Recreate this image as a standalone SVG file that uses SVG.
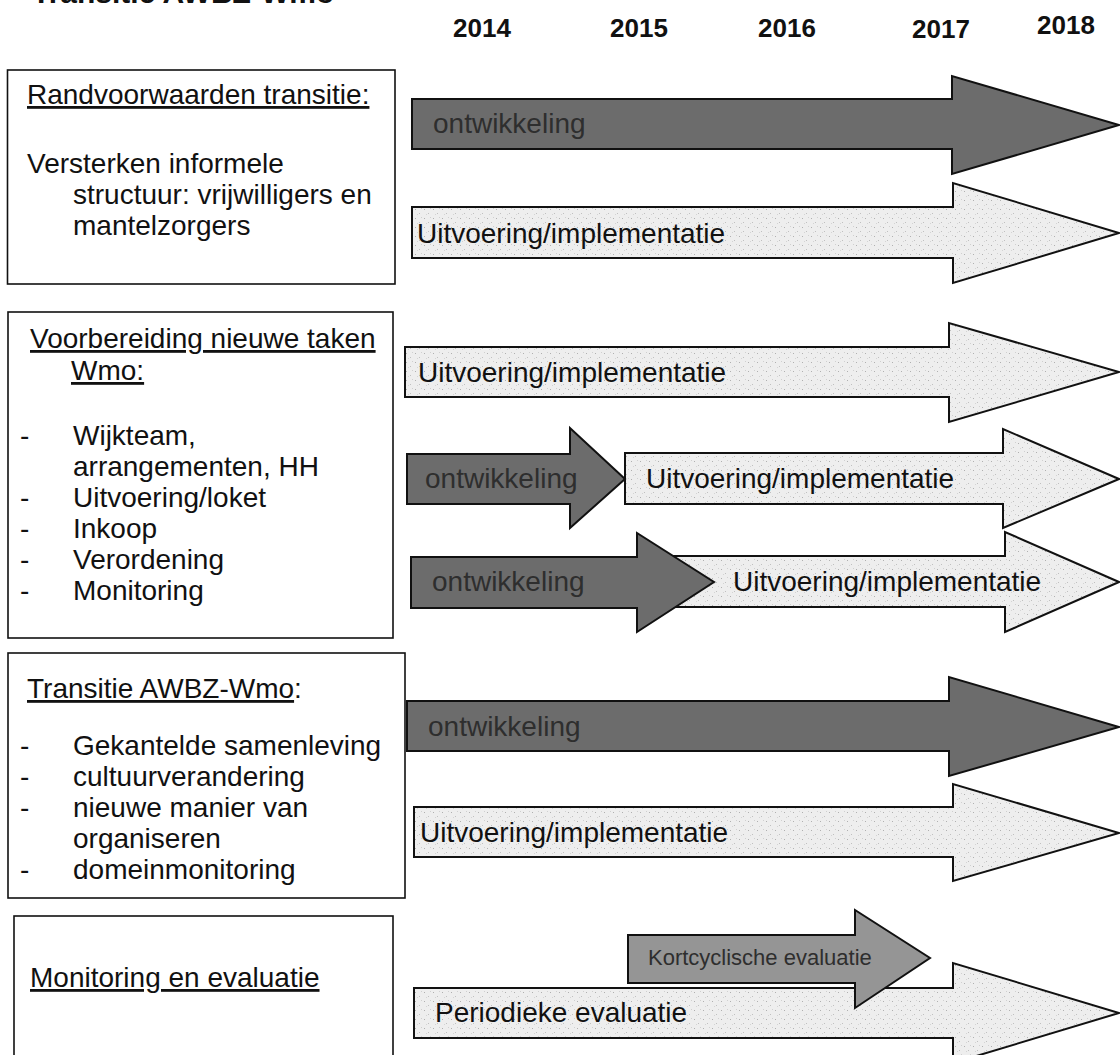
<svg xmlns="http://www.w3.org/2000/svg" width="1120" height="1055" viewBox="0 0 1120 1055">
<style>
text{font-family:"Liberation Sans",Arial,sans-serif;fill:#111}
.t{font-size:28px}
.yr{font-size:26px;font-weight:bold}
.ttl{font-size:30px;font-weight:bold}
.box{fill:#fff;stroke:#111;stroke-width:1.6}
.dark{fill:#6c6c6c;stroke:#111;stroke-width:2}
.light{fill:url(#speck);stroke:#111;stroke-width:2}
.mid{fill:#959595;stroke:#111;stroke-width:2}
.dt{font-size:28px;fill:#2e2e2e}
.lt{font-size:28px;fill:#111}
.u{text-decoration:underline}
</style>
<defs>
<pattern id="speck" width="9" height="9" patternUnits="userSpaceOnUse">
<rect width="9" height="9" fill="#eeeeee"/>
<rect x="1" y="2" width="1" height="1" fill="#b0b0b0"/>
<rect x="5" y="6" width="1" height="1" fill="#c0c0c0"/>
<rect x="7" y="1" width="1" height="1" fill="#d0d0d0"/>
<rect x="3" y="7" width="1" height="1" fill="#d4d4d4"/>
</pattern>
</defs>
<rect width="1120" height="1055" fill="#fff"/>
<text class="ttl" x="32" y="3">Transitie AWBZ-Wmo</text>
<g id="years">
<text class="yr" x="453" y="37">2014</text>
<text class="yr" x="610" y="37">2015</text>
<text class="yr" x="758" y="37">2016</text>
<text class="yr" x="912" y="38">2017</text>
<text class="yr" x="1037" y="34">2018</text>
</g>
<g id="box1">
<rect class="box" x="7.5" y="70" width="387.5" height="214"/>
<text class="t" x="27" y="104"><tspan class="u">Randvoorwaarden transitie:</tspan></text>
<text class="t" x="27" y="173">Versterken informele</text>
<text class="t" x="73" y="204">structuur: vrijwilligers en</text>
<text class="t" x="73" y="235">mantelzorgers</text>
</g>
<g id="box2">
<rect class="box" x="8" y="312" width="385" height="326"/>
<text class="t" x="30" y="348"><tspan class="u">Voorbereiding nieuwe taken</tspan></text>
<text class="t" x="71" y="380"><tspan class="u">Wmo:</tspan></text>
<text class="t" x="20" y="445">-</text><text class="t" x="73" y="445">Wijkteam,</text>
<text class="t" x="73" y="476">arrangementen, HH</text>
<text class="t" x="20" y="507">-</text><text class="t" x="73" y="507">Uitvoering/loket</text>
<text class="t" x="20" y="538">-</text><text class="t" x="73" y="538">Inkoop</text>
<text class="t" x="20" y="569">-</text><text class="t" x="73" y="569">Verordening</text>
<text class="t" x="20" y="600">-</text><text class="t" x="73" y="600">Monitoring</text>
</g>
<g id="box3">
<rect class="box" x="8" y="653" width="397" height="245"/>
<text class="t" x="27" y="698"><tspan class="u">Transitie AWBZ-Wmo</tspan>:</text>
<text class="t" x="20" y="755">-</text><text class="t" x="73" y="755">Gekantelde samenleving</text>
<text class="t" x="20" y="786">-</text><text class="t" x="73" y="786">cultuurverandering</text>
<text class="t" x="20" y="817">-</text><text class="t" x="73" y="817">nieuwe manier van</text>
<text class="t" x="73" y="848">organiseren</text>
<text class="t" x="20" y="879">-</text><text class="t" x="73" y="879">domeinmonitoring</text>
</g>
<g id="box4">
<rect class="box" x="14" y="916" width="379" height="150"/>
<text class="t" x="30" y="987"><tspan class="u">Monitoring en evaluatie</tspan></text>
</g>
<g id="connectors">
<g id="r1-ontw"><path class="dark" d="M412,99 H952 V76 L1119,125 L952,174 V149 H412 Z"/><text class="dt" x="433" y="133">ontwikkeling</text></g>
<g id="r1-uitv"><path class="light" d="M412,207 H953 V183 L1119,233 L953,283 V258 H412 Z"/><text class="lt" x="417" y="243">Uitvoering/implementatie</text></g>
<g id="r2-uitv"><path class="light" d="M405,347 H949 V323 L1119,372 L949,422 V397 H405 Z"/><text class="lt" x="418" y="382">Uitvoering/implementatie</text></g>
<g id="r3-uitv"><path class="light" d="M625,453 H1003 V429 L1119,479 L1003,528 V504 H625 Z"/><text class="lt" x="646" y="488">Uitvoering/implementatie</text></g>
<g id="r3-ontw"><path class="dark" d="M407,454 H570 V428 L625,479 L570,528 V504 H407 Z"/><text class="dt" x="425" y="488">ontwikkeling</text></g>
<g id="r4-uitv"><path class="light" d="M645,556 H1005 V532 L1119,582 L1005,632 V607 H645 Z"/><text class="lt" x="733" y="591">Uitvoering/implementatie</text></g>
<g id="r4-ontw"><path class="dark" d="M411,557 H637 V533 L714,582 L637,632 V608 H411 Z"/><text class="dt" x="432" y="591">ontwikkeling</text></g>
<g id="r5-ontw"><path class="dark" d="M407,701 H949 V677 L1119,727 L949,776 V751 H407 Z"/><text class="dt" x="428" y="736">ontwikkeling</text></g>
<g id="r6-uitv"><path class="light" d="M414,807 H953 V784 L1119,833 L953,881 V857 H414 Z"/><text class="lt" x="420" y="842">Uitvoering/implementatie</text></g>
<g id="r7-per"><path class="light" d="M414,988 H953 V963 L1119,1013 L953,1063 V1038 H414 Z"/><text class="lt" x="435" y="1022">Periodieke evaluatie</text></g>
<g id="r7-kort"><path class="mid" d="M628,935 H855 V910 L930,958 L855,1008 V983 H628 Z"/><text class="dt" style="font-size:22px" x="648" y="965">Kortcyclische evaluatie</text></g>
</g>
</svg>
